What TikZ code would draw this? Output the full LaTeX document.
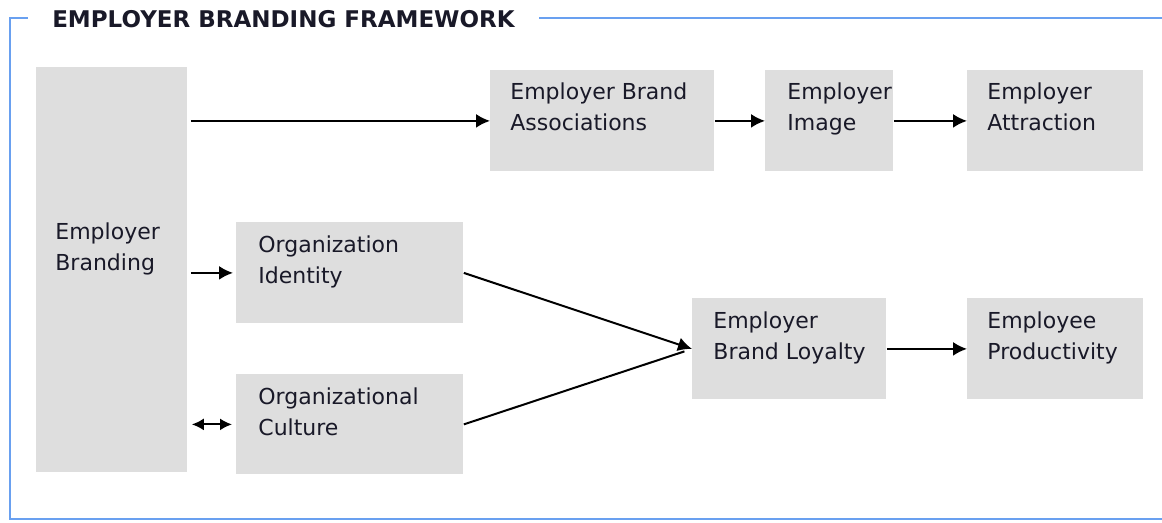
\documentclass[tikz,border=0pt]{standalone}
\usepackage{fontspec}
\setmainfont{DejaVu Sans}
\usepackage{tikz}
\usetikzlibrary{positioning, arrows.meta}
\definecolor{boxgray}{RGB}{222,222,222}
\definecolor{framblue}{RGB}{105,160,240}
\definecolor{textdark}{RGB}{25,25,40}

\begin{document}
\begin{tikzpicture}[x=0.5pt, y=-0.5pt]

	\tikzstyle{box}=[fill=boxgray, inner sep=0pt, anchor=north west, minimum height=50.5pt]
	\tikzstyle{boxtext}=[anchor=north west, inner sep=0pt, align=left, text=textdark, font=\fontsize{11}{15.5}\selectfont]
	\tikzstyle{heading}=[anchor=base, fill=white, inner xsep=12pt, inner ysep=2pt, text=textdark, font=\fontsize{11.5}{13}\selectfont\bfseries]
	\tikzstyle{frame}=[framblue, line width=1pt]
	\tikzstyle{arc}=[-{Latex[length=7pt, width=7pt]}, line width=1pt, black]
	\tikzstyle{arc2}=[{Latex[length=6pt, width=6pt]}-{Latex[length=6pt, width=6pt]}, line width=1pt, black]

	\useasboundingbox (0,0) rectangle (1162,523);

	% cadre et titre
	\draw[frame] (1162,18) -- (10,18) -- (10,519) -- (1162,519);
	\node[heading] (title) at (283.5,28) {EMPLOYER BRANDING FRAMEWORK};

	% placement des boites
	\node[box, minimum width=75.5pt, minimum height=202.5pt] (brand) at (36,67) {};
	\node[box, minimum width=112pt] (assoc) at (490,70) {};
	\node[box, minimum width=64pt] (image) at (765,70) {};
	\node[box, minimum width=88pt] (attract) at (967,70) {};
	\node[box, minimum width=113.5pt] (ident) at (236,222) {};
	\node[box, minimum width=113.5pt, minimum height=50pt] (culture) at (236,374) {};
	\node[box, minimum width=97pt] (loyal) at (692,298) {};
	\node[box, minimum width=88pt] (product) at (967,298) {};

	% textes
	\node[boxtext] (brand-t) at ([shift={(19,155)}]brand.north west) {Employer\\Branding};
	\node[boxtext] (assoc-t) at ([shift={(20,12)}]assoc.north west) {Employer Brand\\Associations};
	\node[boxtext] (image-t) at ([shift={(22,12)}]image.north west) {Employer\\Image};
	\node[boxtext] (attract-t) at ([shift={(20,12)}]attract.north west) {Employer\\Attraction};
	\node[boxtext] (ident-t) at ([shift={(22,13)}]ident.north west) {Organization\\Identity};
	\node[boxtext] (culture-t) at ([shift={(22,13)}]culture.north west) {Organizational\\Culture};
	\node[boxtext] (loyal-t) at ([shift={(21,13)}]loyal.north west) {Employer\\Brand Loyalty};
	\node[boxtext] (product-t) at ([shift={(20,13)}]product.north west) {Employee\\Productivity};

	% fleches
	\draw[arc, shorten <=1.5pt] (brand.east |- assoc.west) -- (assoc.west);
	\draw[arc] (assoc) -- (image);
	\draw[arc] (image) -- (attract);
	\draw[arc, shorten <=1.5pt, shorten >=1.5pt] (brand.east |- ident.west) -- (ident.west);
	\draw[arc2, shorten <=2pt, shorten >=2pt] (brand.east |- culture.west) -- (culture.west);
	\draw[arc] (ident.east) -- (loyal.west);
	\draw[line width=1pt, shorten >=4pt] (culture.east) -- (loyal.west);
	\draw[arc] (loyal) -- (product);

\end{tikzpicture}
\end{document}
